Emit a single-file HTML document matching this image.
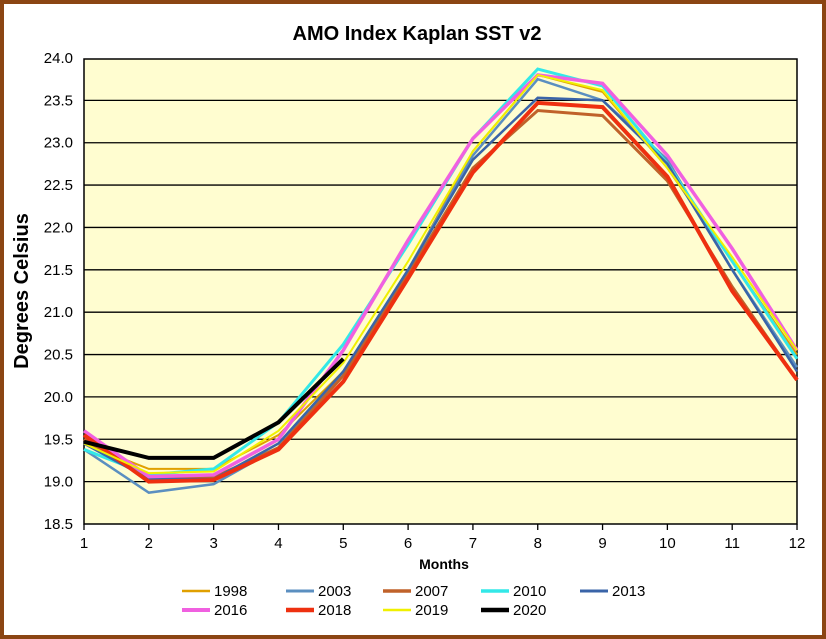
<!DOCTYPE html><html><head><style>body{margin:0;background:#fff}svg{display:block;font-family:"Liberation Sans",Arial,sans-serif}</style></head><body>
<svg width="826" height="639" xmlns="http://www.w3.org/2000/svg">
<rect x="2" y="2" width="822" height="635" fill="#fff" stroke="#8B4513" stroke-width="4"/>
<text x="417" y="40" font-size="20" font-weight="bold" text-anchor="middle">AMO Index Kaplan SST v2</text>
<rect x="84" y="59" width="713" height="465" fill="#FFFDD0" stroke="#000" stroke-width="1.5"/>
<g stroke="#000" stroke-width="1.3" id="g"></g>
<g font-size="15" text-anchor="end" id="yl"></g>
<g font-size="15" text-anchor="middle" id="xl"></g>
<text x="444" y="569" font-size="14" font-weight="bold" text-anchor="middle">Months</text>
<text transform="translate(28,291) rotate(-90)" font-size="20" font-weight="bold" text-anchor="middle">Degrees Celsius</text>
<g id="s" fill="none" stroke-linejoin="miter"></g>
<g id="lg" font-size="15"></g>
</svg>
<script>
const ns="http://www.w3.org/2000/svg";
const X=m=>84+(m-1)*64.82, Y=v=>524-(v-18.5)*84.73;
function el(p,t,a,txt){const e=document.createElementNS(ns,t);for(const k in a)e.setAttribute(k,a[k]);if(txt)e.textContent=txt;document.getElementById(p).appendChild(e);}
for(let i=0;i<=11;i++){const v=18.5+i*0.5,y=Y(v);if(i>0&&i<11)el('g','line',{x1:84,x2:797,y1:y,y2:y});el('yl','text',{x:73,y:y+5},v.toFixed(1));}
for(let m=1;m<=12;m++){el('g','line',{x1:X(m),x2:X(m),y1:524,y2:530});el('xl','text',{x:X(m),y:548},m);}
const S=[
["1998","#E0A000",2,[19.45,19.15,19.15,19.55,20.3,21.5,22.9,23.8,23.6,22.7,21.6,20.5]],
["2003","#5B8FC0",2.5,[19.38,18.87,18.97,19.4,20.3,21.5,22.85,23.75,23.5,22.8,21.5,20.35]],
["2007","#C0622A",3,[19.5,19.05,19.05,19.4,20.25,21.45,22.7,23.38,23.32,22.55,21.3,20.2]],
["2010","#33E8E8",3,[19.38,19.08,19.15,19.7,20.62,21.8,23.05,23.87,23.67,22.75,21.6,20.45]],
["2013","#3A64A8",2.5,[19.45,19.03,19.03,19.45,20.3,21.5,22.8,23.53,23.5,22.75,21.5,20.3]],
["2016","#F060E0",3.5,[19.6,19.06,19.08,19.5,20.55,21.85,23.05,23.8,23.7,22.85,21.75,20.55]],
["2018","#EE3010",4,[19.55,19.0,19.02,19.38,20.18,21.4,22.65,23.47,23.42,22.6,21.25,20.2]],
["2019","#F0F000",2,[19.45,19.1,19.12,19.6,20.4,21.6,22.9,23.8,23.62,22.7,21.65,20.55]],
["2020","#000",4,[19.47,19.28,19.28,19.7,20.45]]];
const cols=[182,286,383,481,580];
S.forEach((s,i)=>{el('s','polyline',{points:s[3].map((v,j)=>X(j+1)+","+Y(v)).join(" "),stroke:s[1],"stroke-width":s[2]});
const cx=cols[i%5],cy=i<5?591:610;el('lg','line',{x1:cx,x2:cx+28,y1:cy,y2:cy,stroke:s[1],"stroke-width":s[2]+0.5});el('lg','text',{x:cx+32,y:cy+5},s[0]);});
</script></body></html>
